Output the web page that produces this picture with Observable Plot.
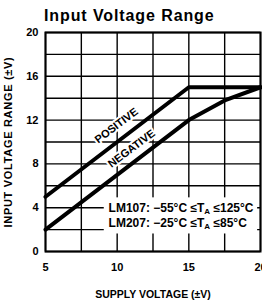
<!DOCTYPE html>
<html><head><meta charset="utf-8">
<script src="https://cdn.jsdelivr.net/npm/d3@7"></script>
<script src="https://cdn.jsdelivr.net/npm/@observablehq/plot@0.6"></script>
<style>
body{margin:0;background:#fff;width:262px;height:305px;overflow:hidden;position:relative;}
#title{position:absolute;left:44px;top:8px;font-family:"Liberation Sans",Arial,Helvetica,sans-serif;font-weight:bold;font-size:16px;letter-spacing:0.9px;line-height:16px;color:#000;white-space:nowrap;margin:0;}
#chart{padding-top:24px;}
#chart svg{display:block;}
</style></head><body>
<div id="title">Input Voltage Range</div>
<div id="chart"></div>
<script>
// Data
const positiveSupply = [5, 15, 20];
const positiveRange  = [5, 15, 15];
const negativeSupply = [5, 15, 17.5, 20];
const negativeRange  = [2, 12, 13.8, 15];
const xTicks = [5, 10, 15, 20];
const yTicks = [0, 4, 8, 12, 16, 20];
const xGrid = [5, 7.5, 10, 12.5, 15, 17.5, 20];
const yGrid = [0, 2, 4, 6, 8, 10, 12, 14, 16, 18, 20];
const seriesLabels = ["POSITIVE", "NEGATIVE"];
const legendLines = ["LM107: \u221255\u00B0C \u2264T_A \u2264125\u00B0C", "LM207: \u221225\u00B0C \u2264T_A \u226485\u00B0C"];
const xLabel = "SUPPLY VOLTAGE (\u00B1V)";
const yLabel = "INPUT VOLTAGE RANGE (\u00B1V)";

const positive = positiveSupply.map((x, i) => ({x, y: positiveRange[i]}));
const negative = negativeSupply.map((x, i) => ({x, y: negativeRange[i]}));

const ff = '"Liberation Sans",Arial,Helvetica,sans-serif';

const chart = Plot.plot({
  width: 262, height: 281,
  marginLeft: 45, marginRight: 2, marginTop: 8, marginBottom: 54,
  style: {fontFamily: ff, fontWeight: "bold", fontSize: "11px", color: "black", background: "white", overflow: "visible"},
  x: {domain: [5, 20]},
  y: {domain: [0, 20]},
  marks: [
    Plot.gridX(xGrid, {stroke: "black", strokeOpacity: 1, strokeWidth: 1.4}),
    Plot.gridY(yGrid, {stroke: "black", strokeOpacity: 1, strokeWidth: 1.4}),
    Plot.rect([0], {x1: 9.1, x2: 19.8, y1: 1.6, y2: 4.9, fill: "white"}),
    Plot.line(positive, {x: "x", y: "y", stroke: "black", strokeWidth: 4}),
    Plot.line(negative, {x: "x", y: "y", stroke: "black", strokeWidth: 4}),
    Plot.frame({stroke: "black", strokeWidth: 2}),
    Plot.axisX(xTicks, {tickSize: 0, tickPadding: 12, label: null, fontSize: 11, fontFamily: ff}),
    Plot.axisY(yTicks, {tickSize: 0, tickPadding: 7, label: null, fontSize: 11, fontFamily: ff}),
    Plot.text([seriesLabels[0]], {x: 9.95, y: 11.5, rotate: -37, fontSize: 11, fontFamily: ff, stroke: "white", strokeWidth: 4, fill: "black"}),
    Plot.text([seriesLabels[1]], {x: 11.0, y: 9.4, rotate: -37, fontSize: 11, fontFamily: ff, stroke: "white", strokeWidth: 4, fill: "black"}),
    Plot.text([legendLines[0]], {x: 9.4, y: 4, textAnchor: "start", fontSize: 12, fontFamily: ff}),
    Plot.text([legendLines[1]], {x: 9.4, y: 2.55, textAnchor: "start", fontSize: 12, fontFamily: ff}),
    Plot.text([xLabel], {frameAnchor: "bottom", textAnchor: "middle", dy: 46, fontSize: 10.5, fontFamily: ff}),
    Plot.text([yLabel], {frameAnchor: "left", textAnchor: "middle", rotate: -90, dx: -37, fontSize: 11, fontFamily: ff})
  ]
});

// subscript A in legend, letter spacing on axis title
d3.select(chart).selectAll("text").each(function() {
  const t = this.textContent;
  if (t.includes("T_A")) {
    const [before, after] = t.split("T_A");
    const el = d3.select(this);
    el.text(null);
    el.append("tspan").text(before + "T");
    el.append("tspan").attr("font-size", 8).attr("dy", 2).text("A");
    el.append("tspan").attr("dy", -2).text(after);
  }
  if (t === yLabel) d3.select(this).attr("letter-spacing", 0.7);
});

document.getElementById("chart").appendChild(chart);
</script>
</body></html>
